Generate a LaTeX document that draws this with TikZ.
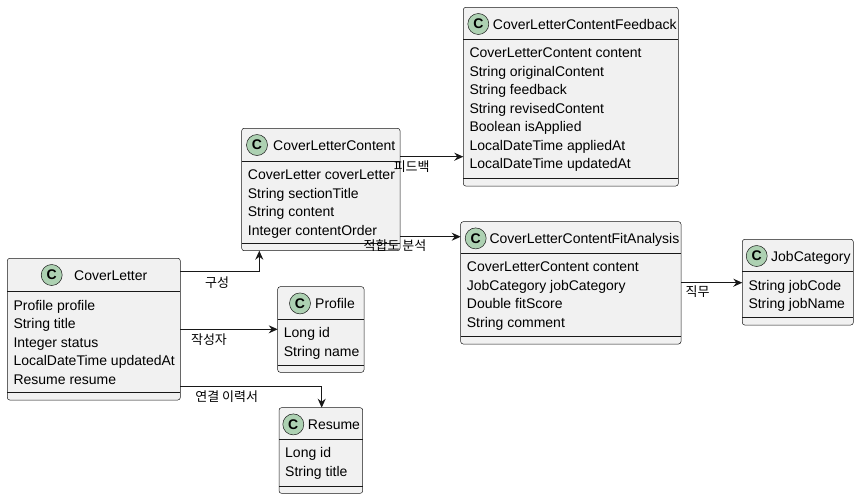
\documentclass[tikz,border=0pt]{standalone}
\usepackage{fontspec}
\setmainfont{Liberation Sans}
\newfontfamily\krfont{Noto Sans CJK KR}
\usetikzlibrary{arrows.meta}
\definecolor{umlline}{HTML}{181818}
\definecolor{umlfill}{HTML}{F1F1F1}
\definecolor{umlbadge}{HTML}{ADD1B2}

\tikzset{
    classbox/.style={draw=umlline, fill=umlfill, line width=0.5pt, rounded corners=2.5pt,
                     anchor=north west, inner sep=0pt, outer sep=0pt},
    sepline/.style={draw=umlline, line width=0.5pt},
    badge/.style={circle, draw=umlline, fill=umlbadge, line width=0.5pt, minimum size=21pt,
                  inner sep=0pt, font=\fontsize{14}{16}\selectfont\bfseries},
    ctitle/.style={anchor=base west, inner sep=0pt, font=\fontsize{14}{16}\selectfont},
    attr/.style={anchor=base west, inner sep=0pt, font=\fontsize{14}{16}\selectfont},
    assoc/.style={draw=umlline, line width=1pt, -{Stealth[length=9pt, width=8pt, inset=3pt]}},
    lbl/.style={inner sep=0pt, font=\krfont\fontsize{13}{15}\selectfont},
}

% name, left, top, right, bottom, header line, badge x, title x, title
\newcommand\umlclass[9]{%
    \node[classbox, minimum width={#4pt-#2pt}, minimum height={#5pt-#3pt}] (#1) at (#2,#3) {};
    \draw[sepline] (#1.west |- 0,#6) -- (#1.east |- 0,#6);
    \draw[sepline] ([yshift=7.5pt]#1.south west) -- ([yshift=7.5pt]#1.south east);
    \node[badge] (#1-c) at (#7,{#3+16.7}) {C};
    \node[ctitle] (#1-t) at (#8,{#3+21.7}) {#9};
}
% name, x, header line, fields
\newcommand\umlfields[4]{%
    \foreach \fieldtext [count=\i] in {#4}
        \node[attr] (#1-\i) at (#2,{#3+18.5*\i}) {\fieldtext};
}

\begin{document}
\begin{tikzpicture}[x=1pt, y=-1pt]
    \useasboundingbox (0,0) rectangle (859,499);

    \umlclass{cl}{7.3}{258.3}{180.3}{400}{291.7}{51.7}{74}{CoverLetter}
    \umlfields{cl}{13.3}{291.7}{Profile profile, String title, Integer status,
        LocalDateTime updatedAt, Resume resume}

    \umlclass{clc}{241.7}{128.3}{400}{250.7}{161}{257}{273}{CoverLetterContent}
    \umlfields{clc}{247.7}{161}{CoverLetter coverLetter, String sectionTitle,
        String content, Integer contentOrder}

    \umlclass{pf}{277.7}{286.7}{364}{372.3}{319}{300}{315}{Profile}
    \umlfields{pf}{283.7}{319}{Long id, String name}

    \umlclass{rs}{279}{407.7}{362.7}{493.3}{439.3}{293.3}{307.7}{Resume}
    \umlfields{rs}{285}{439.3}{Long id, String title}

    \umlclass{fb}{463.3}{7.3}{678.3}{186}{39.3}{478.3}{492.7}{CoverLetterContentFeedback}
    \umlfields{fb}{469.3}{39.3}{CoverLetterContent content, String originalContent,
        String feedback, String revisedContent, Boolean isApplied,
        LocalDateTime appliedAt, LocalDateTime updatedAt}

    \umlclass{fa}{460.7}{221.7}{681}{344}{253.3}{475.7}{489.3}{CoverLetterContentFitAnalysis}
    \umlfields{fa}{466.7}{253.3}{CoverLetterContent content, JobCategory jobCategory,
        Double fitScore, String comment}

    \umlclass{jc}{742.3}{239.3}{853.3}{325}{271.7}{756.7}{771}{JobCategory}
    \umlfields{jc}{748.3}{271.7}{String jobCode, String jobName}

    % associations
    \coordinate (cl-o1) at ([yshift=-13.4pt]cl.north east);
    \coordinate (cl-o2) at ([yshift=-71pt]cl.north east);
    \coordinate (cl-o3) at ([yshift=-128.4pt]cl.north east);
    \coordinate (clc-o1) at ([yshift=-28.4pt]clc.north east);
    \coordinate (clc-o2) at ([yshift=-108.4pt]clc.north east);
    \coordinate (fa-o1) at ([yshift=-61pt]fa.north east);

    \draw[assoc] (cl-o1) -| ([xshift=17.6pt]clc.south west);
    \draw[assoc] (cl-o2) -- (cl-o2 -| pf.west);
    \draw[assoc] (cl-o3) -| ([xshift=42.7pt]rs.north west);
    \draw[assoc] (clc-o1) -- (clc-o1 -| fb.west);
    \draw[assoc] (clc-o2) -- (clc-o2 -| fa.west);
    \draw[assoc] (fa-o1) -- (fa-o1 -| jc.west);

    \node[lbl] (l-compose) at (217,283) {구성};
    \node[lbl] (l-author) at (209,340) {작성자};
    \node[lbl] (l-resume) at (226.7,396.7) {연결 이력서};
    \node[lbl] (l-feedback) at (411.7,166.7) {피드백};
    \node[lbl] (l-fit) at (395,246) {적합도 분석};
    \node[lbl] (l-job) at (697.5,292) {직무};
\end{tikzpicture}
\end{document}
